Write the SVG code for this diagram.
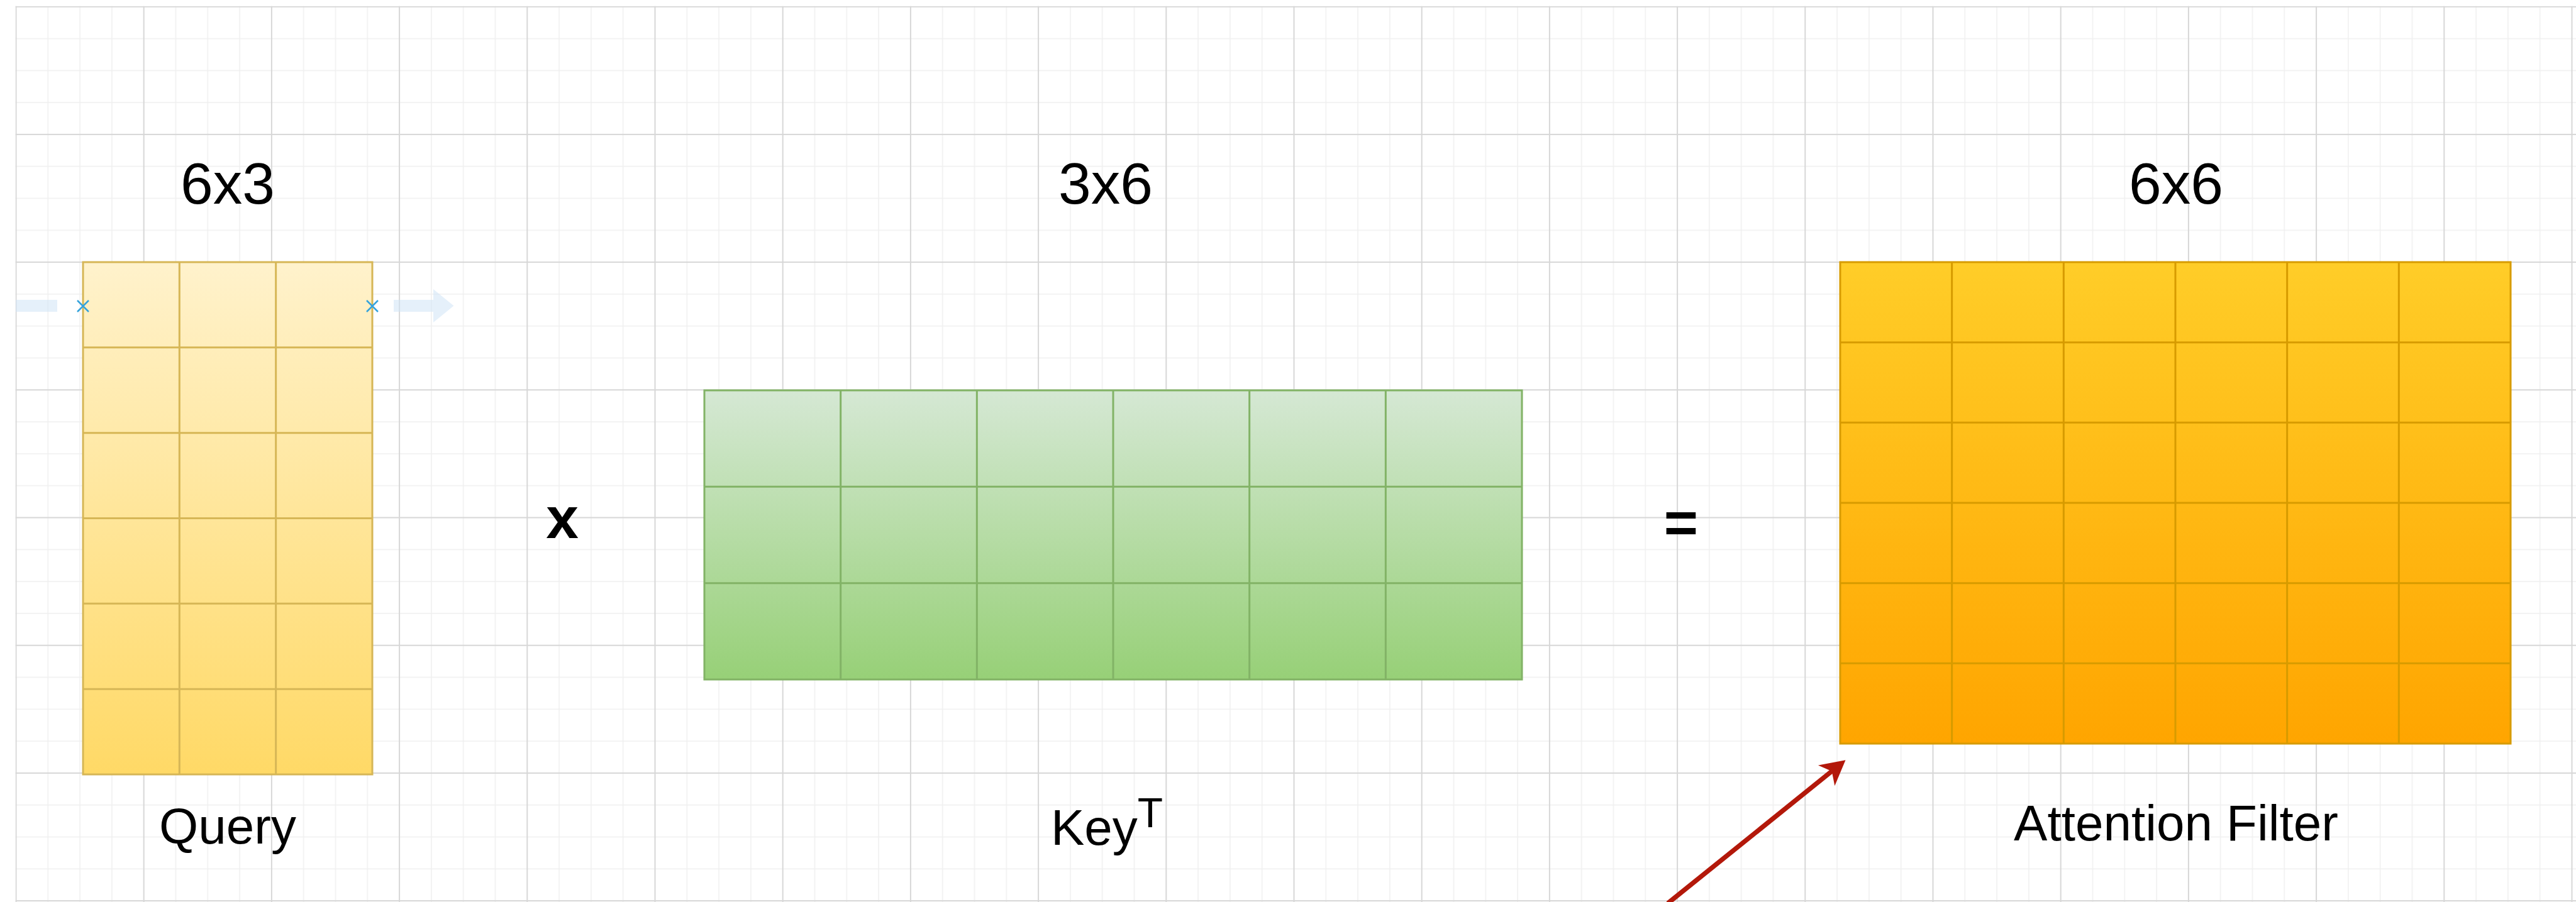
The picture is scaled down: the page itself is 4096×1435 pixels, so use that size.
<svg xmlns="http://www.w3.org/2000/svg" width="4096" height="1435" viewBox="0 0 4096 1435">
  <style>
    .lbl { font-family: "Liberation Sans", Arial, Helvetica, sans-serif; fill: #000000; }
    .head { font-size: 93px; text-anchor: middle; }
    .name { font-size: 80px; text-anchor: middle; }
    .op { font-size: 93px; font-weight: bold; text-anchor: middle; }
    .cellq { stroke: #d6b656; stroke-width: 3; fill: none; }
    .cellk { stroke: #82b366; stroke-width: 3; fill: none; }
    .cella { stroke: #d79b00; stroke-width: 3; fill: none; }
    .hint { fill: #cfe3f5; opacity: 0.55; }
    .mark { stroke: #35a3dc; stroke-width: 2.5; fill: none; }
  </style>
  <defs>
    <pattern id="grid" x="24.5" y="9.7" width="203.2" height="203.2" patternUnits="userSpaceOnUse">
      <path d="M51.8 0V203.2M102.6 0V203.2M153.4 0V203.2M0 51.8H203.2M0 102.6H203.2M0 153.4H203.2" stroke="#f0f0f0" stroke-width="1.6" fill="none"/>
      <path d="M1 0V203.2M0 1H203.2" stroke="#d7d7d7" stroke-width="2" fill="none"/>
    </pattern>
    <linearGradient id="gq" x1="0" y1="0" x2="0" y2="1">
      <stop offset="0" stop-color="#fff2cc"/>
      <stop offset="1" stop-color="#ffd966"/>
    </linearGradient>
    <linearGradient id="gk" x1="0" y1="0" x2="0" y2="1">
      <stop offset="0" stop-color="#d5e8d4"/>
      <stop offset="1" stop-color="#97d077"/>
    </linearGradient>
    <linearGradient id="ga" x1="0" y1="0" x2="0" y2="1">
      <stop offset="0" stop-color="#ffcd28"/>
      <stop offset="1" stop-color="#ffa500"/>
    </linearGradient>
    <marker id="redhead" viewBox="0 0 40 44" refX="12" refY="22" markerWidth="40" markerHeight="44" markerUnits="userSpaceOnUse" orient="auto">
      <path d="M40 22L1 1L12 22L1 43Z" fill="#b3180a"/>
    </marker>
  </defs>

  <rect x="0" y="0" width="4096" height="1435" fill="#ffffff"/>
  <rect x="24.5" y="9.7" width="4080" height="1430" fill="url(#grid)"/>

  <g id="query">
    <rect x="132" y="417" width="460" height="815" fill="url(#gq)" stroke="#d6b656" stroke-width="3"/>
    <path class="cellq" d="M285.33 417V1232M438.67 417V1232M132 552.83H592M132 688.67H592M132 824.5H592M132 960.33H592M132 1096.17H592"/>
    <text class="lbl head" x="362" y="324">6x3</text>
    <text class="lbl name" x="362" y="1342">Query</text>
  </g>

  <g id="hover-hints">
    <rect class="hint" x="25" y="477" width="66" height="19"/>
    <path class="hint" d="M626 477H689V460L721.5 486.5L689 513V496H626Z"/>
    <path class="mark" d="M123 478L141 496M141 478L123 496"/>
    <path class="mark" d="M583 478L601 496M601 478L583 496"/>
  </g>

  <g id="op-times">
    <text class="lbl op" x="894" y="856">x</text>
  </g>

  <g id="keyT">
    <rect x="1120" y="621" width="1300" height="460" fill="url(#gk)" stroke="#82b366" stroke-width="3"/>
    <path class="cellk" d="M1336.67 621V1081M1553.33 621V1081M1770 621V1081M1986.67 621V1081M2203.33 621V1081M1120 774.33H2420M1120 927.67H2420"/>
    <text class="lbl head" x="1758" y="324">3x6</text>
    <text class="lbl" x="1671" y="1344" font-size="80">Key<tspan font-size="66" dy="-28">T</tspan></text>
  </g>

  <g id="op-equals">
    <text class="lbl op" x="2673" y="863" font-size="90">=</text>
  </g>

  <g id="attention">
    <rect x="2926" y="417" width="1066" height="766" fill="url(#ga)" stroke="#d79b00" stroke-width="3"/>
    <path class="cella" d="M3103.67 417V1183M3281.33 417V1183M3459 417V1183M3636.67 417V1183M3814.33 417V1183M2926 544.67H3992M2926 672.33H3992M2926 800H3992M2926 927.67H3992M2926 1055.33H3992"/>
    <text class="lbl head" x="3460" y="324">6x6</text>
    <text class="lbl name" x="3460" y="1337">Attention Filter</text>
  </g>

  <g id="connectors">
    <path d="M2652 1437L2912.7 1226.9" stroke="#b3180a" stroke-width="7.5" fill="none" marker-end="url(#redhead)"/>
  </g>
</svg>
